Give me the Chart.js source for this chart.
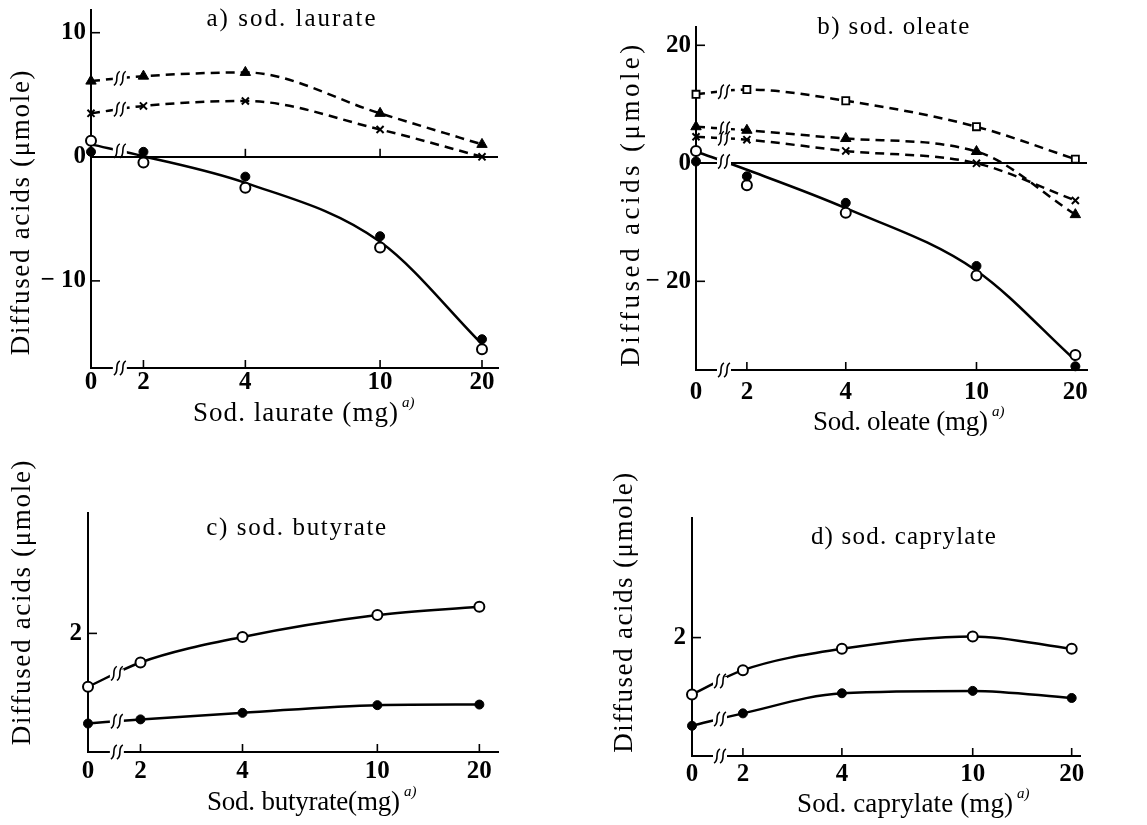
<!DOCTYPE html>
<html>
<head>
<meta charset="utf-8">
<title>Diffused acids vs. sodium soaps</title>
<script src="https://cdn.jsdelivr.net/npm/chart.js@4.4.1/dist/chart.umd.min.js"></script>
<style>
  html, body { margin: 0; padding: 0; background: #fff; }
  #page { position: relative; width: 1147px; height: 825px; overflow: hidden; background: #fff; }
  #page canvas { position: absolute; }
</style>
</head>
<body>
<div id="page">
  <canvas id="chartA" width="560" height="430" style="left:0;top:0"></canvas>
  <canvas id="chartB" width="577" height="440" style="left:570px;top:0"></canvas>
  <canvas id="chartC" width="560" height="395" style="left:0;top:430px"></canvas>
  <canvas id="chartD" width="577" height="395" style="left:570px;top:430px"></canvas>
</div>
<script>
// --------------------------------------------------------------------------
// DATA  (x = soap added, mg; y = diffused acids, µmole)
// --------------------------------------------------------------------------
const DOSES = [0, 2, 4, 10, 20];
const DOSE_LABELS = ['0', '2', '4', '10', '20'];
const ZERO_AT = 1.4;   // where "0" sits left of the break on the log axis

// a) sod. laurate
const LAURATE_TRIANGLE = [6.1, 6.5, 6.8, 3.5, 1.0];
const LAURATE_CROSS = [3.5, 4.1, 4.5, 2.2, 0.0];
const LAURATE_FILLED = [0.4, 0.4, -1.6, -6.4, -14.7];
const LAURATE_OPEN = [1.3, -0.45, -2.5, -7.3, -15.5];
const LAURATE_CURVE = [1.0, 0.05, -2.1, -6.85, -15.1];
const LAURATE_YTICKS = [-10, 0, 10];

// b) sod. oleate
const OLEATE_SQUARE = [11.7, 12.5, 10.6, 6.2, 0.7];
const OLEATE_TRIANGLE = [6.2, 5.6, 4.2, 2.0, -8.7];
const OLEATE_CROSS = [4.5, 4.0, 2.1, 0.0, -6.3];
const OLEATE_FILLED = [0.3, -2.2, -6.7, -17.4, -34.4];
const OLEATE_OPEN = [2.1, -3.7, -8.4, -19.0, -32.5];
const OLEATE_CURVE = [2.0, -1.1, -7.6, -18.2, -33.4];
const OLEATE_YTICKS = [-20, 0, 20];

// c) sod. butyrate
const BUTYRATE_OPEN = [1.10, 1.51, 1.94, 2.31, 2.45];
const BUTYRATE_FILLED = [0.48, 0.55, 0.66, 0.79, 0.80];

// d) sod. caprylate
const CAPRYLATE_OPEN = [1.04, 1.45, 1.81, 2.02, 1.81];
const CAPRYLATE_FILLED = [0.51, 0.72, 1.06, 1.10, 0.98];

const SHORT_YTICKS = [2];

// --------------------------------------------------------------------------
// STYLE HELPERS
// --------------------------------------------------------------------------
const SERIF = '"Liberation Serif", "DejaVu Serif", serif';
const TICK_FONT = { family: SERIF, size: 25, weight: 'bold' };

function doseX(d) { return d === 0 ? ZERO_AT : d; }
function xy(values) { return DOSES.map((d, i) => ({ x: doseX(d), y: values[i] })); }

const MARKERS = {
    filled: { pointStyle: 'circle', pointRadius: 4.5, pointBackgroundColor: '#000', pointBorderColor: '#000', pointBorderWidth: 1 },
    open: { pointStyle: 'circle', pointRadius: 5, pointBackgroundColor: '#fff', pointBorderColor: '#000', pointBorderWidth: 2 },
    triangle: { pointStyle: 'triangle', pointRadius: 6, pointBackgroundColor: '#000', pointBorderColor: '#000', pointBorderWidth: 1 },
    cross: { pointStyle: 'crossRot', pointRadius: 5, pointBackgroundColor: '#000', pointBorderColor: '#000', pointBorderWidth: 2 },
    square: { pointStyle: 'rect', pointRadius: 5, pointBackgroundColor: '#fff', pointBorderColor: '#000', pointBorderWidth: 1.8 },
};

const LINE = { showLine: true, borderColor: '#000', borderWidth: 2.5, cubicInterpolationMode: 'monotone', clip: false, brk: true };

function dashedSeries(values, marker) {
    return Object.assign({ data: xy(values), borderDash: [9, 6], order: 1 }, LINE, MARKERS[marker]);
}
function solidSeries(values, marker) {
    return Object.assign({ data: xy(values), order: 1 }, LINE, MARKERS[marker]);
}
function markersOnly(values, marker) {
    return Object.assign({ data: xy(values), showLine: false, clip: false, order: 0 }, MARKERS[marker]);
}
function curveOnly(values) {
    return Object.assign({ data: xy(values), pointRadius: 0, order: 2 }, LINE);
}

// --------------------------------------------------------------------------
// DECORATION PLUGIN: inner ticks, axis breaks, titles, axis labels
// --------------------------------------------------------------------------
function drawBreak(ctx, x, y) {
    ctx.save();
    ctx.fillStyle = '#fff';
    ctx.fillRect(x - 7, y - 4, 14, 8);
    ctx.strokeStyle = '#000';
    ctx.lineWidth = 1.6;
    [-3, 3].forEach(dx => {
        const cx = x + dx;
        ctx.beginPath();
        ctx.moveTo(cx - 3, y + 7);
        ctx.bezierCurveTo(cx + 3, y + 4, cx - 3, y - 4, cx + 3, y - 7);
        ctx.stroke();
    });
    ctx.restore();
}

function spacedText(ctx, text, x, y, width) {
    ctx.letterSpacing = '0px';
    const w = ctx.measureText(text).width;
    const gap = width ? (width - w) / (text.length - 1) : 0;
    ctx.letterSpacing = gap.toFixed(2) + 'px';
    ctx.fillText(text, x, y);
    ctx.letterSpacing = '0px';
}

function paperPlugin(p) {
    return {
        id: 'paper',
        afterDraw(chart) {
            const { ctx, chartArea: area, scales: { x, y } } = chart;
            const t = 0.55;
            ctx.save();
            ctx.strokeStyle = '#000';
            ctx.lineWidth = 1.6;

            // inner tick marks
            p.yTicks.filter(v => v !== 0).forEach(v => {
                const py = y.getPixelForValue(v);
                ctx.beginPath(); ctx.moveTo(area.left, py); ctx.lineTo(area.left + 9, py); ctx.stroke();
            });
            DOSES.filter(d => d !== 0).forEach(d => {
                const px = x.getPixelForValue(d);
                ctx.beginPath(); ctx.moveTo(px, area.bottom); ctx.lineTo(px, area.bottom - 8); ctx.stroke();
            });
            (p.zeroTicks || []).forEach(d => {
                const px = x.getPixelForValue(d);
                const py = y.getPixelForValue(0);
                ctx.beginPath(); ctx.moveTo(px, py); ctx.lineTo(px, py - 8); ctx.stroke();
            });

            // breaks between 0 and 2
            const x0 = x.getPixelForValue(doseX(0));
            const x2 = x.getPixelForValue(2);
            drawBreak(ctx, x0 + t * (x2 - x0), area.bottom);
            chart.data.datasets.forEach((ds, i) => {
                if (!ds.brk) return;
                const pts = chart.getDatasetMeta(i).data;
                drawBreak(ctx, pts[0].x + t * (pts[1].x - pts[0].x), pts[0].y + t * (pts[1].y - pts[0].y));
            });

            // texts
            ctx.fillStyle = '#000';
            ctx.textBaseline = 'middle';
            ctx.textAlign = 'center';
            ctx.font = '25px ' + SERIF;
            spacedText(ctx, p.title.text, p.title.x, p.title.y, p.title.w);

            ctx.save();
            ctx.translate(p.yLabel.x, p.yLabel.y);
            ctx.rotate(-Math.PI / 2);
            ctx.font = '27px ' + SERIF;
            spacedText(ctx, 'Diffused acids (μmole)', 0, 0, p.yLabel.w);
            ctx.restore();

            ctx.textAlign = 'left';
            ctx.font = '27px ' + SERIF;
            spacedText(ctx, p.xLabel.text, p.xLabel.x, p.xLabel.y, p.xLabel.w);
            ctx.font = 'italic 15px ' + SERIF;
            ctx.fillText('a)', p.xLabel.x + p.xLabel.w + 4, p.xLabel.y - 11);
            ctx.restore();
        }
    };
}

// --------------------------------------------------------------------------
// CHART BUILDER
// --------------------------------------------------------------------------
function buildPanel(canvasId, p) {
    return new Chart(document.getElementById(canvasId), {
        type: 'line',
        data: { datasets: p.datasets },
        options: {
            responsive: false,
            animation: false,
            events: [],
            layout: { padding: { left: 0, top: p.top, right: p.right, bottom: 0 } },
            plugins: { legend: { display: false }, tooltip: { enabled: false } },
            scales: {
                x: {
                    type: 'logarithmic',
                    min: ZERO_AT,
                    max: p.xMax,
                    afterBuildTicks: s => { s.ticks = DOSES.map(d => ({ value: doseX(d) })); },
                    afterFit: s => { s.height = p.xHeight; s.paddingLeft = 0; s.paddingRight = 0; },
                    grid: { display: false, drawTicks: false },
                    border: { display: true, color: '#000', width: 2 },
                    ticks: { autoSkip: false, maxRotation: 0, padding: p.xPad, color: '#000', font: TICK_FONT, callback: (v, i) => DOSE_LABELS[i] },
                },
                y: {
                    type: 'linear',
                    min: p.yMin,
                    max: p.yMax,
                    afterBuildTicks: s => { s.ticks = p.yTicks.map(v => ({ value: v })); },
                    afterFit: s => { s.width = p.yWidth; s.paddingTop = 0; s.paddingBottom = 0; },
                    grid: { drawTicks: false, lineWidth: 2, color: c => (c.tick && c.tick.value === 0) ? '#000' : 'rgba(0,0,0,0)' },
                    border: { display: true, color: '#000', width: 2 },
                    ticks: { padding: p.yPad, color: '#000', font: TICK_FONT, callback: v => v < 0 ? '− ' + (-v) : String(v) },
                },
            },
        },
        plugins: [paperPlugin(p)],
    });
}

buildPanel('chartA', {
    datasets: [
        dashedSeries(LAURATE_TRIANGLE, 'triangle'),
        dashedSeries(LAURATE_CROSS, 'cross'),
        curveOnly(LAURATE_CURVE),
        markersOnly(LAURATE_FILLED, 'filled'),
        markersOnly(LAURATE_OPEN, 'open'),
    ],
    yMin: -17.02, yMax: 11.83, yTicks: LAURATE_YTICKS, xMax: 22.3,
    yWidth: 91, top: 10, right: 62, xHeight: 62, xPad: 0, yPad: 5,
    zeroTicks: [4, 10],
    title: { text: 'a) sod. laurate', x: 292, y: 19, w: 169 },
    yLabel: { x: 22, y: 212, w: 285 },
    xLabel: { text: 'Sod. laurate (mg)', x: 193, y: 414, w: 205 },
});

buildPanel('chartB', {
    datasets: [
        dashedSeries(OLEATE_SQUARE, 'square'),
        dashedSeries(OLEATE_TRIANGLE, 'triangle'),
        dashedSeries(OLEATE_CROSS, 'cross'),
        curveOnly(OLEATE_CURVE),
        markersOnly(OLEATE_FILLED, 'filled'),
        markersOnly(OLEATE_OPEN, 'open'),
    ],
    yMin: -35.03, yMax: 23.1, yTicks: OLEATE_YTICKS, xMax: 21.7,
    yWidth: 126, top: 27, right: 60, xHeight: 70, xPad: 8, yPad: 5,
    title: { text: 'b) sod. oleate', x: 324, y: 27, w: 152 },
    yLabel: { x: 62, y: 204, w: 322 },
    xLabel: { text: 'Sod. oleate (mg)', x: 243, y: 423, w: 175 },
});

buildPanel('chartC', {
    datasets: [
        solidSeries(BUTYRATE_OPEN, 'open'),
        solidSeries(BUTYRATE_FILLED, 'filled'),
    ],
    yMin: 0, yMax: 4.03, yTicks: SHORT_YTICKS, xMax: 22.7,
    yWidth: 88, top: 83, right: 62, xHeight: 73, xPad: 5, yPad: 6,
    title: { text: 'c) sod. butyrate', x: 297, y: 98, w: 180 },
    yLabel: { x: 23, y: 172, w: 285 },
    xLabel: { text: 'Sod. butyrate(mg)', x: 207, y: 373, w: 193 },
});

buildPanel('chartD', {
    datasets: [
        solidSeries(CAPRYLATE_OPEN, 'open'),
        solidSeries(CAPRYLATE_FILLED, 'filled'),
    ],
    yMin: 0, yMax: 4.02, yTicks: SHORT_YTICKS, xMax: 21.2,
    yWidth: 122, top: 88, right: 67, xHeight: 69, xPad: 4, yPad: 6,
    title: { text: 'd) sod. caprylate', x: 334, y: 107, w: 185 },
    yLabel: { x: 55, y: 182, w: 280 },
    xLabel: { text: 'Sod. caprylate (mg)', x: 227, y: 375, w: 216 },
});
</script>
</body>
</html>
